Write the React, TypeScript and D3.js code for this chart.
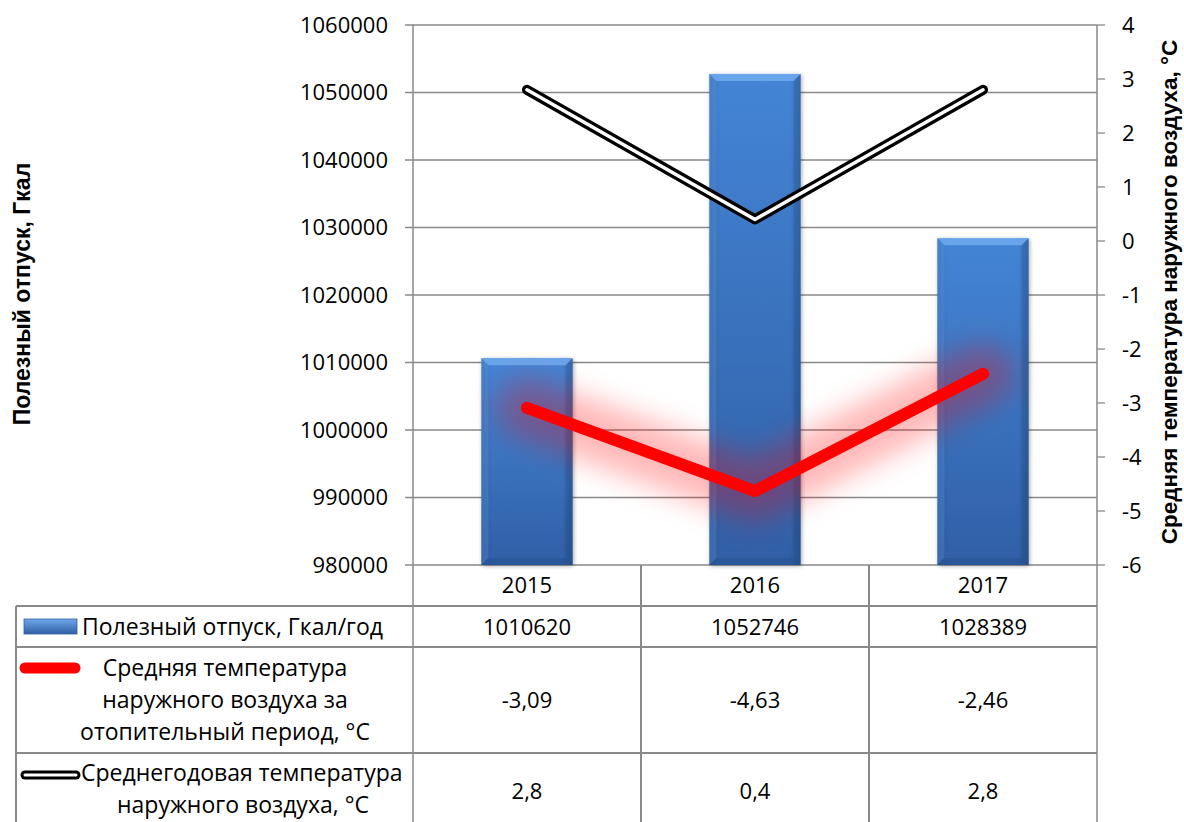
import React from "react";
import * as d3 from "d3";

const years = ["2015", "2016", "2017"];
const otpusk = [1010620, 1052746, 1028389];
const tempHeating = [-3.09, -4.63, -2.46];
const tempAnnual = [2.8, 0.4, 2.8];
const leftTicks = [980000, 990000, 1000000, 1010000, 1020000, 1030000, 1040000, 1050000, 1060000];
const rightTicks = [-6, -5, -4, -3, -2, -1, 0, 1, 2, 3, 4];

const seriesNames = [
  "Полезный отпуск, Гкал/год",
  ["Средняя температура", "наружного воздуха за", "отопительный период, °C"],
  ["Среднегодовая температура", "наружного воздуха, °C"],
];
const leftTitle = "Полезный отпуск, Гкал";
const rightTitle = "Средняя температура наружного воздуха, °C";

const W = 1184;
const H = 822;
const L = 413;
const R = 1097;
const T = 25;
const B = 565;
const FONT = "'Open Sans', sans-serif";
const FS = 22;
const FSL = 23;
const GRID = "#898989";

const fmt = (v: number) => String(v).replace(".", ",");

export default function App() {
  const x = d3.scaleBand<string>().domain(years).range([L, R]).padding(0);
  const yL = d3.scaleLinear().domain([980000, 1060000]).range([B, T]);
  const yR = d3.scaleLinear().domain([-6, 4]).range([B, T]);
  const bw = x.bandwidth() * 0.4;
  const cx = (y: string) => (x(y) as number) + x.bandwidth() / 2;

  const line = d3
    .line<number>()
    .x((_, i) => cx(years[i]))
    .y((d) => yR(d));

  const redPath = line(tempHeating) as string;
  const blackPath = line(tempAnnual) as string;

  const rowTop = [606, 647, 753, 900];
  const tableLeft = 16;

  return (
    <svg
      width={W}
      height={H}
      style={{ position: "absolute", left: 0, top: 0, background: "#fff" }}
      fontFamily={FONT}
    >
      <defs>
        <linearGradient id="barV" x1="0" y1="0" x2="0" y2="1">
          <stop offset="0" stopColor="#4485D6" />
          <stop offset="1" stopColor="#305FA6" />
        </linearGradient>
        <linearGradient id="barH" x1="0" y1="0" x2="1" y2="0">
          <stop offset="0" stopColor="#000" stopOpacity="0.12" />
          <stop offset="0.12" stopColor="#000" stopOpacity="0" />
          <stop offset="0.88" stopColor="#000" stopOpacity="0" />
          <stop offset="1" stopColor="#000" stopOpacity="0.15" />
        </linearGradient>
        <linearGradient id="keyV" x1="0" y1="0" x2="0" y2="1">
          <stop offset="0" stopColor="#6FA8EC" />
          <stop offset="1" stopColor="#2F5EA3" />
        </linearGradient>
        <filter id="glow" x="-50%" y="-100%" width="200%" height="300%">
          <feGaussianBlur stdDeviation="14" />
        </filter>
        <filter id="shadow" x="-20%" y="-20%" width="140%" height="140%">
          <feGaussianBlur in="SourceAlpha" stdDeviation="2" />
          <feOffset dx="1" dy="1" result="b" />
          <feComponentTransfer>
            <feFuncA type="linear" slope="0.35" />
          </feComponentTransfer>
          <feMerge>
            <feMergeNode />
            <feMergeNode in="SourceGraphic" />
          </feMerge>
        </filter>
      </defs>

      {/* gridlines */}
      {leftTicks.map((t) => (
        <line key={"g" + t} x1={L - 8} x2={R} y1={yL(t)} y2={yL(t)} stroke={GRID} strokeWidth={1.3} />
      ))}
      {rightTicks.map((t) => (
        <line key={"rt" + t} x1={R} x2={R + 8} y1={yR(t)} y2={yR(t)} stroke={GRID} strokeWidth={1.3} />
      ))}
      <line x1={L} x2={L} y1={T} y2={H} stroke={GRID} strokeWidth={1.5} />
      <line x1={R} x2={R} y1={T} y2={H} stroke={GRID} strokeWidth={1.5} />

      {/* left tick labels */}
      {leftTicks.map((t) => (
        <text key={"lt" + t} x={388} y={yL(t)} dy="0.36em" textAnchor="end" fontSize={FS} fill="#000">
          {t}
        </text>
      ))}
      {rightTicks.map((t) => (
        <text key={"rl" + t} x={1122} y={yR(t)} dy="0.36em" textAnchor="start" fontSize={FS} fill="#000">
          {t}
        </text>
      ))}

      {/* axis titles */}
      <text
        transform={`translate(30,${(T + B) / 2 - 1}) rotate(-90)`}
        textAnchor="middle"
        fontFamily="'Liberation Sans', Arial, sans-serif"
        fontWeight="bold"
        fontSize={23}
      >
        {leftTitle}
      </text>
      <text
        transform={`translate(1177,${(T + B) / 2 - 3}) rotate(-90)`}
        textAnchor="middle"
        fontFamily="'Liberation Sans', Arial, sans-serif"
        fontWeight="bold"
        fontSize={22.5}
      >
        {rightTitle}
      </text>

      {/* bars */}
      {years.map((yr, i) => {
        const x0 = cx(yr) - bw / 2;
        const x1 = x0 + bw;
        const y0 = yL(otpusk[i]);
        const y1 = B;
        const b = 7;
        return (
          <g key={"bar" + yr} filter="url(#shadow)">
            <rect x={x0} y={y0} width={bw} height={y1 - y0} fill="url(#barV)" />
            <rect x={x0} y={y0} width={bw} height={y1 - y0} fill="url(#barH)" />
            <polygon
              points={`${x0},${y0} ${x1},${y0} ${x1 - b},${y0 + b} ${x0 + b},${y0 + b}`}
              fill="#6EAAF0"
              opacity={0.85}
            />
            <polygon
              points={`${x0},${y0} ${x0 + b},${y0 + b} ${x0 + b},${y1 - b} ${x0},${y1}`}
              fill="#5C97E0"
              opacity={0.3}
            />
            <polygon
              points={`${x1},${y0} ${x1 - b},${y0 + b} ${x1 - b},${y1 - b} ${x1},${y1}`}
              fill="#1F4A85"
              opacity={0.25}
            />
            <polygon
              points={`${x0},${y1} ${x0 + b},${y1 - b} ${x1 - b},${y1 - b} ${x1},${y1}`}
              fill="#1F4A85"
              opacity={0.35}
            />
          </g>
        );
      })}

      {/* red line with glow */}
      <path d={redPath} fill="none" stroke="#FF0000" strokeWidth={60} strokeOpacity={0.28} filter="url(#glow)" strokeLinejoin="round" strokeLinecap="round" />
      <path d={redPath} fill="none" stroke="#FF0000" strokeWidth={12} strokeLinejoin="round" strokeLinecap="round" />

      {/* black double line */}
      <path d={blackPath} fill="none" stroke="#000" strokeWidth={10} strokeLinejoin="round" strokeLinecap="round" />
      <path d={blackPath} fill="none" stroke="#fff" strokeWidth={3.5} strokeLinejoin="round" strokeLinecap="round" />

      {/* data table */}
      {rowTop.slice(0, 3).map((y) => (
        <line key={"row" + y} x1={tableLeft} x2={R} y1={y} y2={y} stroke={GRID} strokeWidth={2} />
      ))}
      <line x1={tableLeft} x2={tableLeft} y1={rowTop[0]} y2={H} stroke={GRID} strokeWidth={2} />
      {years.slice(1).map((yr) => (
        <line key={"col" + yr} x1={x(yr) as number} x2={x(yr) as number} y1={B} y2={H} stroke={GRID} strokeWidth={2} />
      ))}

      {years.map((yr) => (
        <text key={"yr" + yr} x={cx(yr)} y={593} textAnchor="middle" fontSize={FS}>
          {yr}
        </text>
      ))}
      {years.map((yr, i) => (
        <text key={"v1" + yr} x={cx(yr)} y={635} textAnchor="middle" fontSize={FS}>
          {otpusk[i]}
        </text>
      ))}
      {years.map((yr, i) => (
        <text key={"v2" + yr} x={cx(yr)} y={708} textAnchor="middle" fontSize={FS}>
          {fmt(tempHeating[i])}
        </text>
      ))}
      {years.map((yr, i) => (
        <text key={"v3" + yr} x={cx(yr)} y={799} textAnchor="middle" fontSize={FS}>
          {fmt(tempAnnual[i])}
        </text>
      ))}

      {/* legend keys */}
      <rect x={24} y={619} width={53} height={15} fill="url(#keyV)" stroke="#2F5EA3" strokeWidth={0.8} />
      <line x1={25} x2={75} y1={668} y2={668} stroke="#FF0000" strokeWidth={11} strokeLinecap="round" />
      <line x1={25} x2={76} y1={775} y2={775} stroke="#000" strokeWidth={9} strokeLinecap="round" />
      <line x1={25} x2={76} y1={775} y2={775} stroke="#fff" strokeWidth={3} strokeLinecap="round" />

      {/* legend texts */}
      <text x={82} y={635} fontSize={FSL}>
        {seriesNames[0] as string}
      </text>
      {(seriesNames[1] as string[]).map((s, i) => (
        <text key={"s2" + i} x={225} y={676 + i * 32} textAnchor="middle" fontSize={FSL}>
          {s}
        </text>
      ))}
      {(seriesNames[2] as string[]).map((s, i) => (
        <text key={"s3" + i} x={i === 0 ? 81 : 243} y={781 + i * 32} textAnchor={i === 0 ? "start" : "middle"} fontSize={FSL}>
          {s}
        </text>
      ))}
    </svg>
  );
}
